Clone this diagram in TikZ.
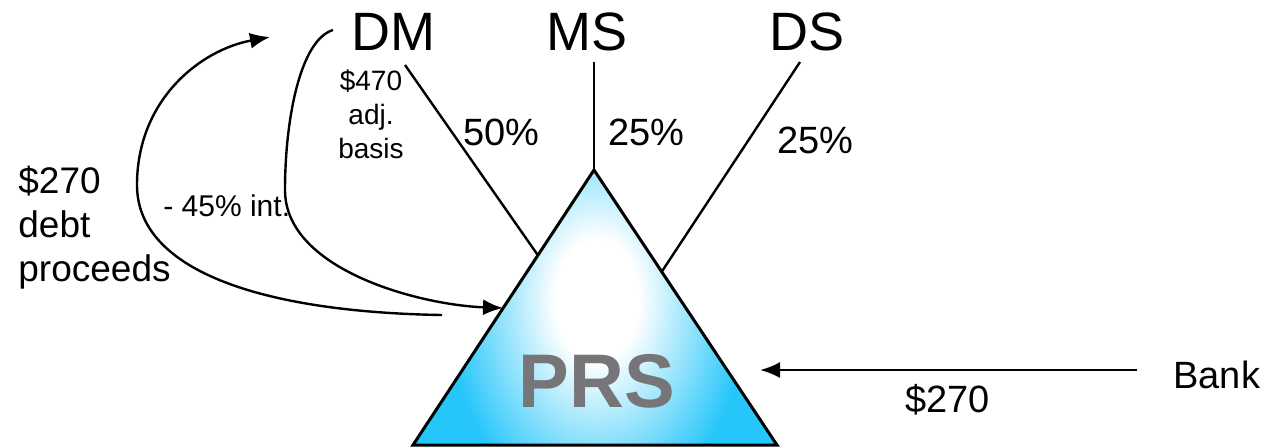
\documentclass[tikz,border=0pt]{standalone}
\usepackage{fontspec}
\setmainfont{Liberation Sans}
\usetikzlibrary{calc,arrows.meta}
\definecolor{prsblue}{RGB}{38,198,250}
\definecolor{prsgrey}{RGB}{118,118,120}
\pgfdeclareradialshading{prsglow}{\pgfpoint{0bp}{0bp}}{color(0bp)=(white); color(7bp)=(white); color(25bp)=(prsblue); color(50bp)=(prsblue)}

\begin{document}
\begin{tikzpicture}[x=0.5pt,y=-0.5pt,
  partner/.style={font=\fontsize{27}{30}\selectfont, inner sep=0pt},
  share/.style={font=\fontsize{19}{22}\selectfont, inner sep=0pt},
  flow/.style={line width=1.2pt, -{Latex[length=10pt,width=8pt]}}]
\useasboundingbox (0,0) rectangle (1272,447);

%Triangle
\path (594,170) coordinate (apex);
\path (413,445) coordinate (bl);
\path (777,445) coordinate (br);
\begin{scope}
  \clip (apex) -- (bl) -- (br) -- cycle;
  \fill[prsblue] (400,160) rectangle (790,447);
  \shade[shading=prsglow] (597,300) ellipse (150 and 215);
\end{scope}
\draw[line width=1.5pt, line join=miter] (apex) -- (bl) -- (br) -- cycle;
\node[font=\bfseries\fontsize{38}{40}\selectfont, text=prsgrey, inner sep=0pt, anchor=base] (prs) at (597,407) {PRS};

%Partners
\node[partner] (dm) at (393,32) {DM};
\node[partner] (ms) at (587,32) {MS};
\node[partner] (ds) at (807,32) {DS};
\path (405,65) coordinate (dmfoot);
\path (594,62) coordinate (msfoot);
\path (800,62) coordinate (dsfoot);
\draw[line width=1.2pt] (dmfoot) -- ($(apex)!0.31!(bl)$);
\draw[line width=1.2pt] (msfoot) -- (apex);
\draw[line width=1.2pt] (dsfoot) -- ($(apex)!0.37!(br)$);
\node[share, anchor=base west] (dmshare) at (463,145) {50\%};
\node[share, anchor=base west] (msshare) at (608,145) {25\%};
\node[share, anchor=base west] (dsshare) at (777,153) {25\%};

%Contribution and distribution
\node[font=\fontsize{14}{17}\selectfont, inner sep=0pt, align=center, anchor=north] (basis) at (371,69) {\$470\\adj.\\basis};
\path (333,30) coordinate (contrib);
\path (503,308) coordinate (prsin);
\draw[flow] (contrib) .. controls (300,40) and (285,120) .. (285,190)
  .. controls (285,270) and (420,305) .. (prsin);
\path (442,315) coordinate (prsout);
\path (270,37) coordinate (dmin);
\draw[flow] (prsout) .. controls (260,312) and (137,270) .. (137,185)
  .. controls (137,100) and (200,50) .. (dmin);
\node[font=\fontsize{15}{18}\selectfont, inner sep=0pt, anchor=base west] (interest) at (163,216) {- 45\% int.};
\node[font=\fontsize{18.5}{22}\selectfont, inner sep=0pt, align=left, anchor=north west] (proceeds) at (18,166) {\$270\\debt\\proceeds};

%Bank
\node[share, anchor=base west] (bank) at (1173,388) {Bank};
\path (1137,370) coordinate (bankout);
\path (760,370) coordinate (prsloan);
\draw[flow] (bankout) -- (prsloan);
\node[share, anchor=base west] (loan) at (905,412) {\$270};

\end{tikzpicture}
\end{document}
